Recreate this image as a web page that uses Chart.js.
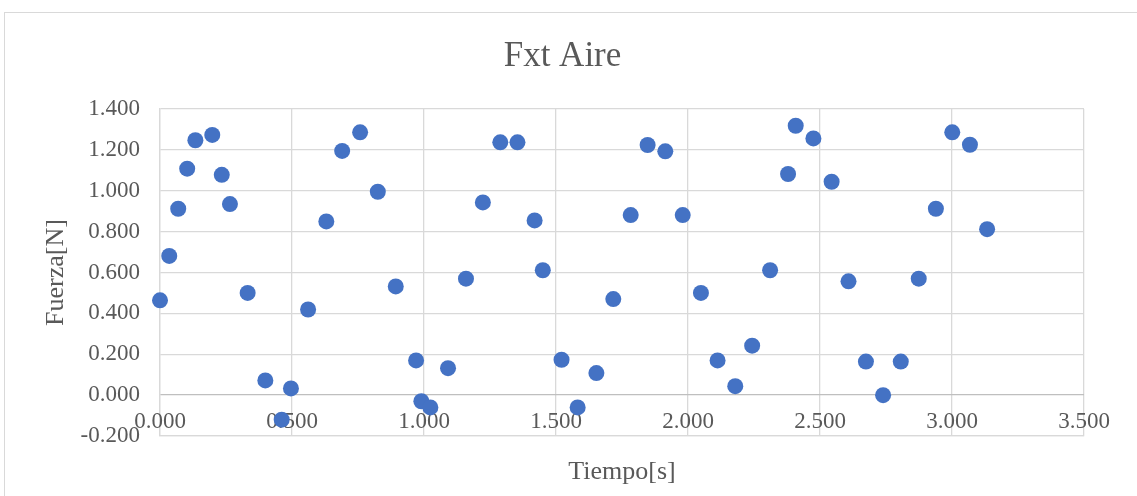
<!DOCTYPE html>
<html lang="es">
<head>
    <meta charset="UTF-8">
    <title>Fxt Aire</title>
    <script src="https://cdn.jsdelivr.net/npm/chart.js"></script>
    <style>
        html, body { margin: 0; padding: 0; background: #fff; overflow: hidden; }
        .frame {
            position: absolute; left: 4px; top: 12px;
            width: 1200px; height: 600px;
            border: 1.5px solid #d9d9d9;
        }
        .wrap { position: absolute; left: 0; top: 0; width: 1137px; height: 496px; }
    </style>
</head>
<body>
    <div class="frame"></div>
    <div class="wrap"><canvas id="fxt"></canvas></div>

    <script>
        // datos
        const tiempo = [
            0.000, 0.035, 0.069, 0.103, 0.134, 0.198, 0.234, 0.265, 0.332, 0.399,
            0.461, 0.496, 0.561, 0.630, 0.690, 0.758, 0.825, 0.893, 0.970, 0.990,
            1.024, 1.091, 1.159, 1.223, 1.289, 1.354, 1.419, 1.450, 1.521, 1.582,
            1.653, 1.717, 1.783, 1.847, 1.914, 1.980, 2.049, 2.112, 2.179, 2.243,
            2.311, 2.379, 2.408, 2.475, 2.544, 2.608, 2.674, 2.739, 2.806, 2.874,
            2.939, 3.001, 3.068, 3.133
        ];
        const fuerza = [
            0.464, 0.681, 0.912, 1.108, 1.247, 1.273, 1.078, 0.935, 0.500, 0.072,
            -0.120, 0.033, 0.419, 0.850, 1.195, 1.286, 0.995, 0.532, 0.170, -0.030,
            -0.060, 0.132, 0.570, 0.943, 1.237, 1.237, 0.855, 0.611, 0.173, -0.060,
            0.108, 0.470, 0.881, 1.224, 1.193, 0.881, 0.500, 0.170, 0.044, 0.242,
            0.611, 1.082, 1.318, 1.256, 1.044, 0.557, 0.164, 0.000, 0.164, 0.570,
            0.912, 1.286, 1.225, 0.812
        ];
        const xTicks = [0, 0.5, 1.0, 1.5, 2.0, 2.5, 3.0, 3.5];
        const yTicks = [-0.2, 0, 0.2, 0.4, 0.6, 0.8, 1.0, 1.2, 1.4];

        const serif = 'Liberation Serif, Times New Roman, serif';
        const gris = '#595959';

        const puntos = tiempo.map((t, i) => ({ x: t, y: fuerza[i] }));

        // etiquetas del eje X junto a la linea y = 0, como en Excel
        const etiquetasX = {
            id: 'etiquetasX',
            beforeDatasetsDraw(chart) {
                const { ctx, scales: { x, y } } = chart;
                const base = y.getPixelForValue(0) + 33;
                ctx.save();
                ctx.font = '23px ' + serif;
                ctx.fillStyle = gris;
                ctx.textAlign = 'center';
                ctx.textBaseline = 'alphabetic';
                xTicks.forEach(v => {
                    ctx.fillText(v.toFixed(3), x.getPixelForValue(v), base);
                });
                ctx.restore();
            }
        };

        new Chart(document.getElementById('fxt'), {
            type: 'scatter',
            data: {
                datasets: [{
                    data: puntos,
                    backgroundColor: '#4472C4',
                    borderColor: '#4472C4',
                    borderWidth: 0,
                    pointRadius: 8,
                    pointHoverRadius: 8,
                    clip: false
                }]
            },
            options: {
                responsive: true,
                maintainAspectRatio: false,
                animation: false,
                events: [],
                layout: { padding: { left: 41, right: 53, top: 0, bottom: 8 } },
                plugins: {
                    legend: { display: false },
                    tooltip: { enabled: false },
                    title: {
                        display: true,
                        text: 'Fxt Aire',
                        color: gris,
                        font: { family: serif, size: 35, weight: 'normal' },
                        padding: { top: 36, bottom: 31 }
                    }
                },
                scales: {
                    x: {
                        type: 'linear',
                        min: xTicks[0],
                        max: xTicks[xTicks.length - 1],
                        afterBuildTicks: s => { s.ticks = xTicks.map(v => ({ value: v })); },
                        afterFit: s => { s.height = 52; },
                        grid: { color: '#d9d9d9', lineWidth: 1.3, drawTicks: false },
                        border: { color: '#d9d9d9', width: 1.3 },
                        ticks: { display: false },
                        title: {
                            display: true,
                            text: 'Tiempo[s]',
                            color: gris,
                            font: { family: serif, size: 26 },
                            padding: 0
                        }
                    },
                    y: {
                        type: 'linear',
                        min: yTicks[0],
                        max: yTicks[yTicks.length - 1],
                        afterBuildTicks: s => { s.ticks = yTicks.map(v => ({ value: v })); },
                        afterFit: s => { s.width = 119; },
                        grid: {
                            color: c => (c.tick && Math.abs(c.tick.value) < 1e-9) ? '#bfbfbf' : '#d9d9d9',
                            lineWidth: 1.3,
                            drawTicks: false
                        },
                        border: { color: '#d9d9d9', width: 1.3 },
                        ticks: {
                            color: gris,
                            font: { family: serif, size: 23 },
                            padding: 20,
                            callback: v => Number(v).toFixed(3)
                        },
                        title: {
                            display: true,
                            text: 'Fuerza[N]',
                            color: gris,
                            font: { family: serif, size: 26 },
                            padding: 0
                        }
                    }
                }
            },
            plugins: [etiquetasX]
        });
    </script>
</body>
</html>
